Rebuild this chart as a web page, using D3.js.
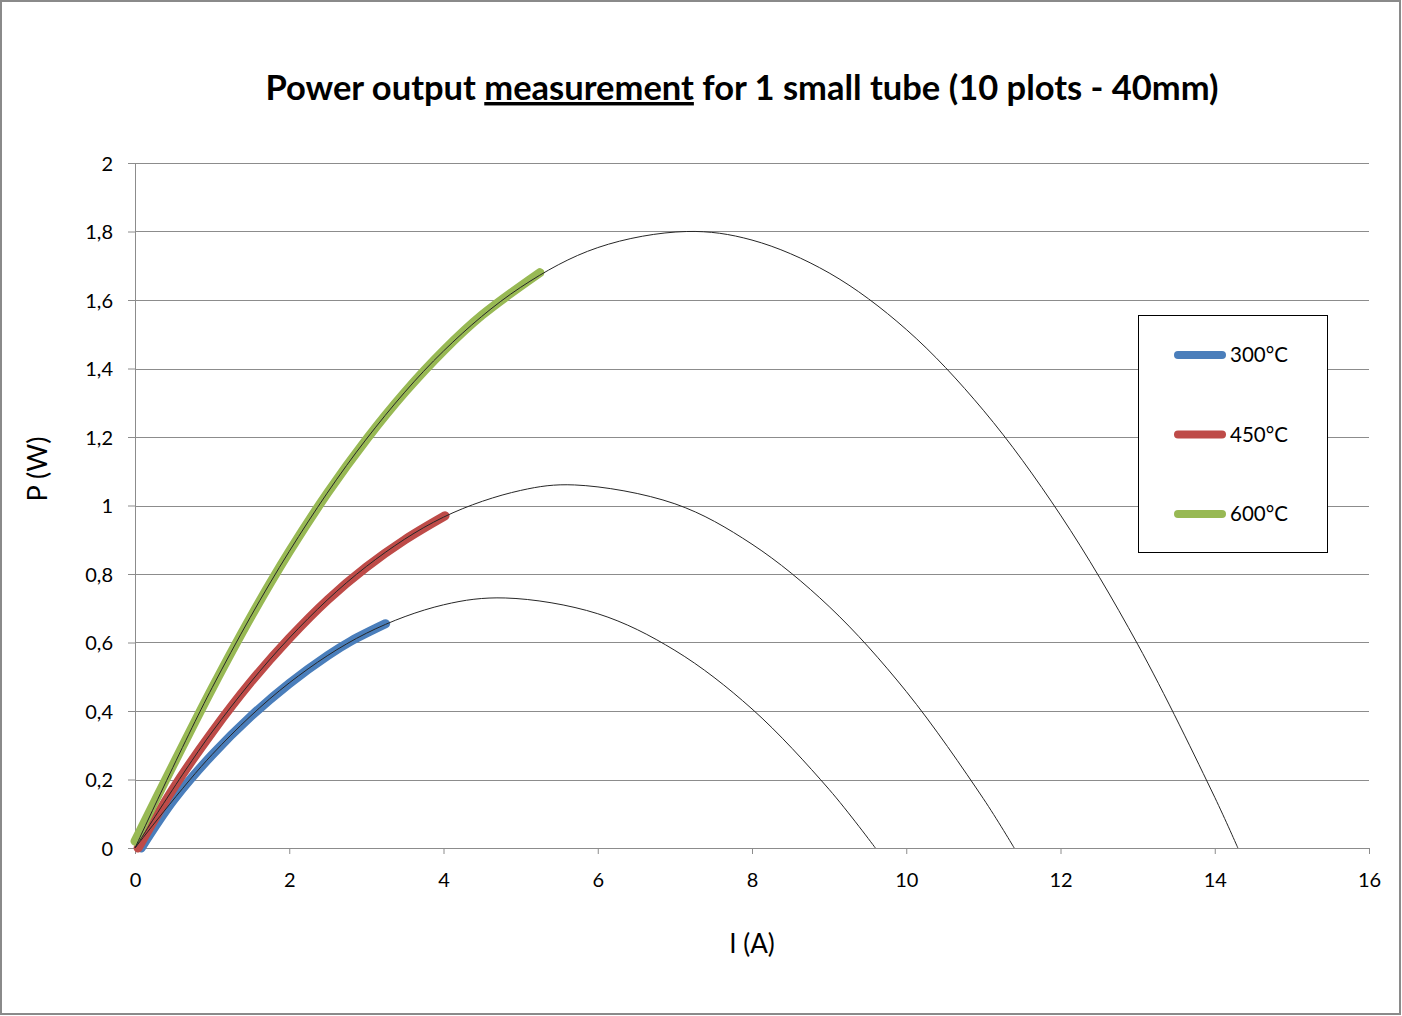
<!DOCTYPE html>
<html>
<head>
<meta charset="utf-8">
<script src="https://cdn.jsdelivr.net/npm/d3@7"></script>
<style>
  body { margin: 0; background: #fff; }
  svg text { font-family: Lato, "Open Sans", sans-serif; }
</style>
</head>
<body>
<div id="chart"></div>
<script>
// Series names and colours (Excel 2007 palette)
var seriesNames = ["300°C", "450°C", "600°C"];
var seriesColors = ["#4a7ebb", "#be4b48", "#98b954"];

// Measured points, current I (A)
var measI300 = [0.08, 0.5, 1.0, 1.5, 2.0, 2.5, 2.8, 3.25];
var measI450 = [0.04, 0.5, 1.0, 1.5, 2.0, 2.5, 3.0, 3.5, 4.02];
var measI600 = [0.0, 0.5, 1.0, 1.5, 2.0, 2.5, 3.0, 3.5, 4.0, 4.5, 5.25];

// Measured points, power P (W)
var measP300 = [0.0, 0.14, 0.272, 0.384, 0.48, 0.562, 0.604, 0.655];
var measP450 = [0.0, 0.175, 0.338, 0.484, 0.612, 0.725, 0.82, 0.9, 0.97];
var measP600 = [0.02, 0.245, 0.466, 0.674, 0.865, 1.038, 1.193, 1.331, 1.452, 1.556, 1.68];

// Fitted curves (thin black)
var fitI300 = [0, 1, 2, 3, 4, 4.8, 6, 7, 8, 9, 9.6];
var fitP300 = [0, 0.273, 0.482, 0.627, 0.710, 0.730, 0.684, 0.577, 0.406, 0.171, 0];
var fitI450 = [0, 1, 2, 3, 4, 5, 5.7, 7, 8, 9, 10, 11, 11.4];
var fitP450 = [0, 0.339, 0.613, 0.822, 0.966, 1.044, 1.060, 1.005, 0.887, 0.705, 0.457, 0.144, 0];
var fitI600 = [0, 1, 2, 3, 4, 5, 6, 7.15, 8, 9, 10, 11, 12, 13, 14, 14.3];
var fitP600 = [0, 0.468, 0.866, 1.194, 1.451, 1.637, 1.753, 1.800, 1.775, 1.679, 1.514, 1.278, 0.972, 0.595, 0.148, 0];

// Axis ticks
var xTicks = [0, 2, 4, 6, 8, 10, 12, 14, 16];
var yTicks = [0, 0.2, 0.4, 0.6, 0.8, 1, 1.2, 1.4, 1.6, 1.8, 2];

var width = 1402;
var height = 1016;
var margin = {top: 163, right: 33, bottom: 168, left: 135};
var plot_width = width - margin.left - margin.right;
var plot_height = height - margin.top - margin.bottom;

function zip(xs, ys) {
    return xs.map(function(x, i) { return [x, ys[i]]; });
}
var measured = [zip(measI300, measP300), zip(measI450, measP450), zip(measI600, measP600)];
var fitted = [zip(fitI300, fitP300), zip(fitI450, fitP450), zip(fitI600, fitP600)];

var svg = d3.select("#chart")
            .append("svg")
            .attr("width", width)
            .attr("height", height);

// Outer frame
svg.append("rect")
    .attr("x", 1).attr("y", 1)
    .attr("width", width - 3).attr("height", height - 3)
    .attr("fill", "#fff")
    .attr("stroke", "#8a8a8a")
    .attr("stroke-width", 2);

var g = svg.append("g")
           .attr("transform", "translate(" + margin.left + "," + margin.top + ")");

var xScale = d3.scaleLinear().domain([0, 16]).range([0, plot_width]);
var yScale = d3.scaleLinear().domain([0, 2]).range([plot_height, 0]);

var commaFormat = function(d) { return d3.format("~g")(d).replace(".", ","); };

// Gridlines
g.selectAll(".grid")
    .data(yTicks.slice(1))
    .enter()
    .append("line")
    .attr("x1", 0).attr("x2", plot_width)
    .attr("y1", function(d) { return Math.round(yScale(d)) + 0.5; })
    .attr("y2", function(d) { return Math.round(yScale(d)) + 0.5; })
    .attr("stroke", "#8c8c8c")
    .attr("stroke-width", 1);

// X axis
var xAxis = d3.axisBottom(xScale)
              .tickValues(xTicks)
              .tickSize(6)
              .tickFormat(commaFormat);
var gx = g.append("g")
    .attr("transform", "translate(0," + plot_height + ")")
    .call(xAxis);

// Y axis
var yAxis = d3.axisLeft(yScale)
              .tickValues(yTicks)
              .tickSize(7)
              .tickFormat(commaFormat);
var gy = g.append("g").call(yAxis);

[gx, gy].forEach(function(ax) {
    ax.select(".domain").attr("stroke", "#8c8c8c");
    ax.selectAll(".tick line").attr("stroke", "#8c8c8c");
    ax.selectAll(".tick text")
        .attr("fill", "#000")
        .attr("font-size", "20px")
        .attr("font-family", "Lato, sans-serif");
});
gx.selectAll(".tick text").attr("y", 25).attr("dy", "0.71em");
gy.selectAll(".tick text").attr("x", -22).attr("dy", "0.35em");

// Measured series: thick coloured lines
var line = d3.line()
             .x(function(d) { return xScale(d[0]); })
             .y(function(d) { return yScale(d[1]); })
             .curve(d3.curveCatmullRom);

g.selectAll(".measured")
    .data(measured)
    .enter()
    .append("path")
    .attr("d", line)
    .attr("fill", "none")
    .attr("stroke", function(d, i) { return seriesColors[i]; })
    .attr("stroke-width", 9)
    .attr("stroke-linecap", "round")
    .attr("stroke-linejoin", "round");

// Fitted curves: thin black lines drawn on top
g.selectAll(".fitted")
    .data(fitted)
    .enter()
    .append("path")
    .attr("d", line)
    .attr("fill", "none")
    .attr("stroke", "#262626")
    .attr("stroke-width", 1);

// Title with underlined word
var title = svg.append("text")
    .attr("x", 742)
    .attr("y", 100)
    .attr("text-anchor", "middle")
    .attr("font-size", "34.5px")
    .attr("font-weight", "bold")
    .attr("fill", "#000");
title.append("tspan").text("Power output ");
title.append("tspan").style("text-decoration", "underline").text("measurement");
title.append("tspan").text(" for 1 small tube (10 plots - 40mm)");

// Axis titles
svg.append("text")
    .attr("x", 752)
    .attr("y", 953)
    .attr("text-anchor", "middle")
    .attr("font-size", "26px")
    .attr("fill", "#000")
    .text("I (A)");

svg.append("text")
    .attr("transform", "translate(47,469) rotate(-90)")
    .attr("text-anchor", "middle")
    .attr("font-size", "27px")
    .attr("fill", "#000")
    .text("P (W)");

// Legend
var legend = svg.append("g").attr("transform", "translate(1138,315)");
legend.append("rect")
    .attr("x", 0.5).attr("y", 0.5)
    .attr("width", 189).attr("height", 237)
    .attr("fill", "#fff")
    .attr("stroke", "#000")
    .attr("stroke-width", 1);

var items = legend.selectAll(".item")
    .data(seriesNames)
    .enter()
    .append("g")
    .attr("transform", function(d, i) { return "translate(0," + (40 + i * 79.5) + ")"; });
items.append("line")
    .attr("x1", 40).attr("x2", 84)
    .attr("stroke", function(d, i) { return seriesColors[i]; })
    .attr("stroke-width", 8)
    .attr("stroke-linecap", "round");
items.append("text")
    .attr("x", 92)
    .attr("dy", "0.36em")
    .attr("font-size", "20.5px")
    .attr("fill", "#000")
    .text(function(d) { return d; });
</script>
</body>
</html>
